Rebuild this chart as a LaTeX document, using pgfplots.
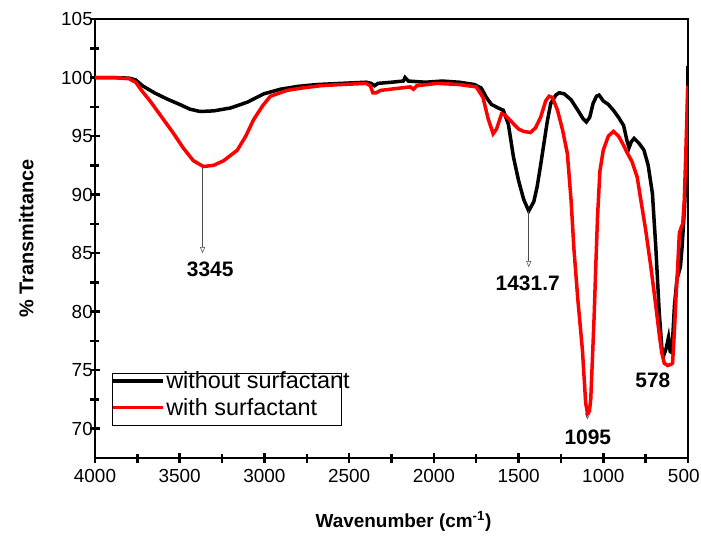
\documentclass[border=0pt]{standalone}
\usepackage{fontspec}
\setmainfont{Liberation Sans}
\usepackage{pgfplots}
\pgfplotsset{compat=1.18}
\usetikzlibrary{arrows.meta}

\begin{document}
\begin{tikzpicture}
\begin{axis}[
  scale only axis, width=593bp, height=439bp,
  x dir=reverse,
  xmin=500, xmax=4000, ymin=67.5, ymax=105,
  xtick={500,1000,...,4000}, ytick={70,75,...,105},
  xticklabels={\makebox[40bp][l]{500},1000,1500,2000,2500,3000,3500,4000},
  minor x tick num=1, minor y tick num=1,
  xtick pos=bottom, ytick pos=left, tick align=center,
  major tick length=10bp, minor tick length=9bp,
  every tick/.style={black, line width=2.5bp},
  axis line style={line width=2bp},
  /pgf/number format/assume math mode=true,
  /pgf/number format/1000 sep={},
  tick label style={font=\fontsize{19}{19}\selectfont},
  yticklabel style={inner sep=0pt, xshift=3bp},
  xticklabel style={yshift=-3bp},
  xlabel={\textbf{Wavenumber (cm\textsuperscript{-1})}},
  ylabel={\textbf{\% Transmittance}},
  xlabel style={font=\fontsize{19}{19}\selectfont, yshift=-22bp, xshift=12bp},
  ylabel style={font=\fontsize{20}{20}\selectfont, yshift=24bp},
  legend style={at={(axis cs:3905,75.0)}, anchor=north west, draw=none, fill=none,
    font=\fontsize{23.5}{23.5}\selectfont, inner sep=0pt, row sep=5bp,
    nodes={inner sep=1.5bp}},
  legend cell align=left,
  legend image code/.code={\draw[#1, line width=3.5bp] (0,0) -- (50bp,0);},
]
\addplot[black, line width=3.5bp] coordinates {
(4000,100.0) (3900,100.0) (3800,99.95) (3760,99.8) (3720,99.3) (3650,98.7) (3580,98.2)
(3500,97.7) (3440,97.3) (3380,97.1) (3300,97.15) (3200,97.4) (3100,97.9) (3005,98.6)
(2906,99.0) (2800,99.25) (2690,99.4) (2550,99.5) (2400,99.6) (2370,99.5) (2350,99.3)
(2330,99.5) (2250,99.6) (2180,99.7) (2170,100.0) (2150,99.7) (2050,99.6) (1950,99.7)
(1850,99.6) (1760,99.4) (1720,99.1) (1690,98.3) (1660,97.7) (1620,97.4) (1590,97.2)
(1560,96.0) (1530,93.2) (1500,91.2) (1470,89.6) (1440,88.6) (1410,89.4) (1390,90.7)
(1370,92.5) (1350,94.4) (1330,96.3) (1310,97.8) (1280,98.5) (1260,98.7) (1230,98.6)
(1190,98.1) (1150,97.2) (1120,96.5) (1100,96.2) (1080,96.6) (1060,97.8) (1040,98.4)
(1025,98.5) (1000,98.0) (970,97.7) (940,97.2) (910,96.6) (880,95.9) (860,94.6)
(848,94.0) (835,94.5) (818,94.8) (790,94.4) (760,93.8) (735,92.5) (710,90.1)
(690,85.5) (670,80.0) (655,77.0) (645,76.2) (630,76.8) (615,77.8) (605,76.6)
(595,76.5) (580,80.5) (565,82.8) (545,83.8) (535,85.5) (520,89.0) (510,92.5)
(503,97.0) (500,101.0)
};
\addlegendentry{without surfactant}
\addplot[red, line width=3.5bp] coordinates {
(4000,100.0) (3900,100.0) (3800,99.9) (3760,99.6) (3720,98.8) (3675,98.0) (3600,96.5)
(3540,95.3) (3480,94.0) (3420,92.9) (3360,92.4) (3300,92.5) (3240,92.9) (3160,93.8)
(3110,95.0) (3064,96.4) (3010,97.6) (2965,98.4) (2867,98.9) (2780,99.1) (2670,99.3)
(2550,99.4) (2400,99.5) (2375,99.3) (2360,98.7) (2340,98.7) (2315,98.9) (2200,99.1)
(2140,99.2) (2120,99.0) (2100,99.3) (1980,99.5) (1850,99.4) (1750,99.2) (1710,98.3)
(1680,96.5) (1650,95.2) (1630,95.6) (1600,96.9) (1580,96.8) (1540,96.2) (1500,95.6)
(1470,95.4) (1430,95.3) (1400,95.7) (1370,96.6) (1340,98.0) (1320,98.4) (1300,98.3)
(1270,97.2) (1240,95.5) (1212,93.5) (1190,89.5) (1173,85.3) (1150,81.0) (1123,76.7)
(1104,72.2) (1093,71.3) (1082,71.5) (1074,72.5) (1064,76.0) (1054,79.6) (1044,84.0)
(1034,88.1) (1020,92.0) (1000,93.8) (970,95.0) (940,95.4) (910,95.0) (880,94.2)
(860,93.6) (830,92.8) (800,91.5) (778,89.5) (750,87.0) (719,83.8) (690,80.5)
(670,78.1) (655,76.5) (640,75.6) (620,75.4) (600,75.5) (591,75.6) (581,78.1)
(570,81.5) (561,83.8) (551,86.7) (540,87.2) (531,87.5) (522,89.5) (512,94.0)
(505,97.5) (500,99.3)
};
\addlegendentry{with surfactant}

% legend frame, narrower than the first entry as in the original
\draw[black, line width=0.6bp] (axis cs:3895,74.7) rectangle (axis cs:2545,70.3);

% peak markers
\draw[gray!60!black, line width=0.5bp, -{Triangle[open, length=6bp, width=5bp]}]
  (axis cs:3365,92.4) -- (axis cs:3365,85.0);
\draw[gray!60!black, line width=0.5bp, -{Triangle[open, length=6bp, width=5bp]}]
  (axis cs:1440,88.6) -- (axis cs:1440,83.8);
\draw[gray!60!black, line width=0.5bp, -{Triangle[open, length=6bp, width=5bp]}]
  (axis cs:1093,71.6) -- (axis cs:1093,70.8);
\node[font=\fontsize{21}{21}\selectfont\bfseries] at (axis cs:3320,83.6) {3345};
\node[font=\fontsize{21}{21}\selectfont\bfseries] at (axis cs:1446,82.4) {1431.7};
\node[font=\fontsize{21}{21}\selectfont\bfseries] at (axis cs:1091,69.3) {1095};
\node[font=\fontsize{21}{21}\selectfont\bfseries] at (axis cs:707,74.1) {578};
\end{axis}
\pgfresetboundingbox
\useasboundingbox ([shift={(-95bp,-80bp)}]current axis.south west)
  rectangle ([shift={(13bp,19bp)}]current axis.north east);
\end{tikzpicture}
\end{document}
